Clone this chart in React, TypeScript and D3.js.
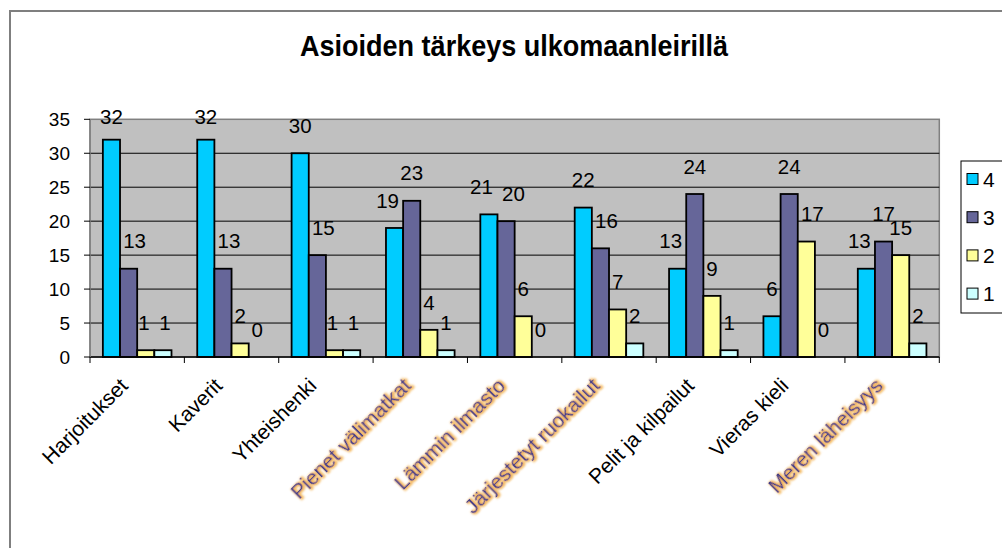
import React from "react";
import * as d3 from "d3";

const title = "Asioiden tärkeys ulkomaanleirillä";
const categories = [
  "Harjoitukset",
  "Kaverit",
  "Yhteishenki",
  "Pienet välimatkat",
  "Lämmin ilmasto",
  "Järjestetyt ruokailut",
  "Pelit ja kilpailut",
  "Vieras kieli",
  "Meren läheisyys",
];
const blurredCategories = ["Pienet välimatkat", "Lämmin ilmasto", "Järjestetyt ruokailut", "Meren läheisyys"];
const seriesNames = ["4", "3", "2", "1"];
const series4 = [32, 32, 30, 19, 21, 22, 13, 6, 13];
const series3 = [13, 13, 15, 23, 20, 16, 24, 24, 17];
const series2 = [1, 2, 1, 4, 6, 7, 9, 17, 15];
const series1 = [1, 0, 1, 1, 0, 2, 1, 0, 2];
const yTicks = [0, 5, 10, 15, 20, 25, 30, 35];
const seriesColors = ["#00CCFF", "#666699", "#FFFF99", "#CCFFFF"];

const W = 1002;
const H = 548;
const FONT = "'Liberation Sans', Arial, sans-serif";

export default function App() {
  const allSeries = [series4, series3, series2, series1];
  const left = 90,
    right = 939.3,
    top = 119.3,
    bottom = 357;
  const gap = 1.5 / 5.5;
  const x0 = d3.scaleBand<string>().domain(categories).range([left, right]).paddingInner(gap).paddingOuter(gap / 2);
  const x1 = d3.scaleBand<string>().domain(seriesNames).range([0, x0.bandwidth()]);
  const y = d3.scaleLinear().domain([0, 35]).range([bottom, top]);
  const step = x0.step();
  const bw = x1.bandwidth();
  const boundaries = d3.range(categories.length + 1).map((i) => left + i * step);

  const bars: any[] = [];
  const labels: any[] = [];
  categories.forEach((c, ci) => {
    const info = allSeries.map((s, si) => {
      const v = s[ci];
      const bx = (x0(c) as number) + (x1(seriesNames[si]) as number);
      const by = y(v);
      const txt = String(v);
      const w = txt.length * 11;
      let shift = 0;
      if (txt.length > 1) {
        const leftN = si > 0 ? allSeries[si - 1][ci] : -1;
        const rightN = si < 3 ? allSeries[si + 1][ci] : -1;
        if (leftN > v + 2.9) shift = 6;
        else if (rightN > v + 2.9) shift = -7;
      }
      return { v, bx, by, txt, w, cx: bx + bw / 2 + shift, base: Math.max(by - 20.3, 124) };
    });
    // separate neighbouring labels that would collide
    for (let i = 0; i < info.length - 1; i++) {
      const a = info[i];
      const b = info[i + 1];
      if (Math.abs(a.base - b.base) < 10) {
        const need = (a.w + b.w) / 2 + 10;
        const d = b.cx - a.cx;
        if (d < need) {
          const push = (need - d) / 2;
          a.cx -= push;
          b.cx += push;
        }
      }
    }
    info.forEach((o, si) => {
      bars.push(
        <rect
          key={`b${ci}-${si}`}
          x={o.bx}
          y={o.by}
          width={bw}
          height={bottom - o.by}
          fill={seriesColors[si]}
          stroke="#000"
          strokeWidth={1.8}
        />
      );
      labels.push(
        <text
          key={`l${ci}-${si}`}
          x={o.cx}
          y={o.base}
          textAnchor="middle"
          fontFamily={FONT}
          fontSize={20.5}
          fill="#000"
        >
          {o.txt}
        </text>
      );
    });
  });

  return (
    <svg
      width={W}
      height={H}
      style={{ position: "absolute", left: 0, top: 0, display: "block", background: "#fff" }}
    >
      <defs>
        <filter id="glow" x="-5%" y="-30%" width="110%" height="160%">
          <feMorphology in="SourceAlpha" operator="dilate" radius="0.7" result="d" />
          <feGaussianBlur in="d" stdDeviation="0.8" result="b" />
          <feFlood floodColor="#F2AE48" floodOpacity="0.9" />
          <feComposite in2="b" operator="in" result="g" />
          <feOffset in="g" dx="0.6" dy="0.9" result="go" />
          <feGaussianBlur in="SourceGraphic" stdDeviation="0.35" result="s" />
          <feMerge>
            <feMergeNode in="go" />
            <feMergeNode in="s" />
          </feMerge>
        </filter>
      </defs>
      <rect x={0} y={0} width={W} height={H} fill="#fff" />
      {/* chart frame */}
      <path d={`M10,${H} L10,11 L${W},11`} fill="none" stroke="#7f7f7f" strokeWidth={2} />

      {/* title */}
      <text
        x={514}
        y={56}
        textAnchor="middle"
        fontFamily={FONT}
        fontWeight="bold"
        fontSize={30}
        textLength={428}
        lengthAdjust="spacingAndGlyphs"
        fill="#000"
      >
        {title}
      </text>

      {/* plot area */}
      <rect x={left} y={top} width={right - left} height={bottom - top} fill="#C0C0C0" stroke="#808080" strokeWidth={1.5} />
      {yTicks
        .filter((t) => t > 0 && t < 35)
        .map((t) => (
          <line key={`g${t}`} x1={left} x2={right} y1={y(t)} y2={y(t)} stroke="#000" strokeWidth={1} />
        ))}

      {bars}

      {/* axes */}
      <line x1={left} x2={right} y1={bottom} y2={bottom} stroke="#000" strokeWidth={1.5} />
      <line x1={left} x2={left} y1={top} y2={bottom} stroke="#808080" strokeWidth={1.5} />
      {yTicks.map((t) => (
        <g key={`yt${t}`}>
          <line x1={left - 6} x2={left} y1={y(t)} y2={y(t)} stroke="#000" strokeWidth={1} />
          <text x={70} y={y(t) + 7} textAnchor="end" fontFamily={FONT} fontSize={19} fill="#000">
            {t}
          </text>
        </g>
      ))}
      {boundaries.map((bx, i) => (
        <line key={`xt${i}`} x1={bx} x2={bx} y1={bottom} y2={bottom + 6} stroke="#000" strokeWidth={1} />
      ))}

      {labels}

      {/* category labels */}
      {categories.map((c) => {
        const cx = (x0(c) as number) + x0.bandwidth() / 2;
        const ax = cx - 8;
        const ay = 387;
        const blurred = blurredCategories.includes(c);
        return (
          <text
            key={`c${c}`}
            transform={`translate(${ax},${ay}) rotate(-45)`}
            textAnchor="end"
            fontFamily={FONT}
            fontSize={21}
            fill={blurred ? "#3C3C88" : "#000"}
            filter={blurred ? "url(#glow)" : undefined}
          >
            {c}
          </text>
        );
      })}

      {/* legend */}
      <rect x={961} y={161} width={60} height={152} fill="#fff" stroke="#000" strokeWidth={1} />
      {seriesNames.map((s, i) => {
        const cy = 179 + i * 38.2;
        return (
          <g key={`lg${s}`}>
            <rect x={967} y={cy - 5.5} width={11} height={11} fill={seriesColors[i]} stroke="#000" strokeWidth={1} />
            <text x={983} y={cy + 7.5} fontFamily={FONT} fontSize={21} fill="#000">
              {s}
            </text>
          </g>
        );
      })}
    </svg>
  );
}
